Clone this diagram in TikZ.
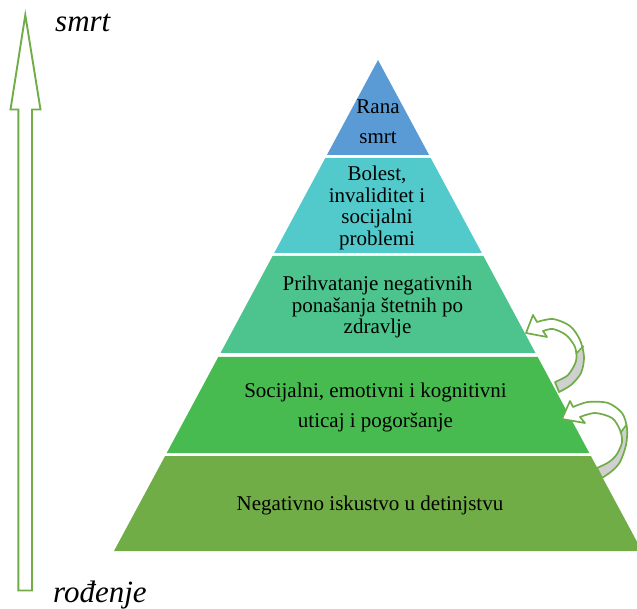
\documentclass[tikz,border=0pt]{standalone}
\usepackage{fontspec}
\setmainfont{Liberation Serif}
\definecolor{cBlue}{RGB}{91,155,213}
\definecolor{cTeal}{RGB}{82,202,204}
\definecolor{cMint}{RGB}{77,196,142}
\definecolor{cGreen}{RGB}{71,187,80}
\definecolor{cOlive}{RGB}{112,173,71}
\definecolor{cLine}{RGB}{112,173,71}
\definecolor{cGray}{RGB}{208,208,208}
\begin{document}
\begin{tikzpicture}[x=1pt,y=-1pt,
  lbltight/.style={font=\fontsize{21}{21.5}\selectfont, align=center, text=black, inner sep=0pt},
  lblwide/.style={font=\fontsize{21}{30}\selectfont, align=center, text=black, inner sep=0pt},
  sidelbl/.style={font=\itshape\fontsize{31}{31}\selectfont, text=black, inner sep=0pt, anchor=base west},
  outl/.style={draw=cLine, line width=1.7pt, line join=round},
  bigarrow/.style={draw=cLine, line width=1.9pt, line join=miter, fill=white}]
\useasboundingbox (0,0) rectangle (637,609);

% pyramid bands
\fill[cBlue]  (378,60) -- (429.1,155) -- (326.9,155) -- cycle;
\fill[cTeal]  (325.3,158) -- (430.7,158) -- (481.8,253) -- (274.2,253) -- cycle;
\fill[cMint]  (272.6,256) -- (483.4,256) -- (535.5,353) -- (220.5,353) -- cycle;
\fill[cGreen] (218.3,357) -- (537.7,357) -- (589.3,453) -- (166.7,453) -- cycle;
\fill[cOlive] (165.1,456) -- (590.9,456) -- (642,551) -- (114,551) -- cycle;

% labels
\node[lblwide]  (l1) at (378,122) {Rana\\smrt};
\node[lbltight] (l2) at (377,208) {Bolest,\\invaliditet i\\socijalni\\problemi};
\node[lbltight] (l3) at (377.5,307) {Prihvatanje negativnih\\pona\v{s}anja \v{s}tetnih po\\zdravlje};
\node[lblwide]  (l4) at (375.5,407) {Socijalni, emotivni i kognitivni\\uticaj i pogor\v{s}anje};
\node[lbltight] (l5) at (370,505) {Negativno iskustvo u detinjstvu};

% left arrow
\draw[bigarrow] (25.3,15) -- (40.5,109.5) -- (32,109.5) -- (32,590.5) -- (18.3,590.5) -- (18.3,109.5) -- (10.5,109.5) -- cycle;
\node[sidelbl] (top) at (55,32) {smrt};
\node[sidelbl] (bot) at (53,602) {rođenje};

% upper curved arrow
\def\upperband{(526,333) -- (533,315) -- (537,322)
  -- plot[smooth] coordinates {(537,322) (553,319) (570,326) (580,340) (584,357) (581,373) (571,385) (559,392)}
  -- (555,382)
  -- plot[smooth] coordinates {(555,382) (568,375) (576,361) (575,347) (566,335) (553,329) (543,331)}
  -- (547,337) -- cycle}
\fill[white] \upperband;
\begin{scope}
  \clip (545,354) -- (576,354) -- (590,344) -- (600,344) -- (600,400) -- (545,400) -- cycle;
  \fill[cGray] \upperband;
\end{scope}
\draw[outl] (575.8,354) .. controls (579,350) .. (583.6,346);
\draw[outl] \upperband;

% lower curved arrow
\def\lowerband{(562,419) -- (570,401) -- (573,407)
  -- plot[smooth] coordinates {(573,407) (588,402) (608,403) (622,413) (627,428) (626,445) (620,462) (612,471) (602,478)}
  -- (597,468)
  -- plot[smooth] coordinates {(597,468) (609,462) (617,454) (622,442) (620,430) (612,418) (595,413) (580,417)}
  -- (585,423) -- cycle}
\fill[white] \lowerband;
\begin{scope}
  \clip (585,433) -- (620.5,433) -- (632,423) -- (645,423) -- (645,495) -- (585,495) -- cycle;
  \fill[cGray] \lowerband;
\end{scope}
\draw[outl] (620.3,433) .. controls (623,429) .. (626.8,424.5);
\draw[outl] \lowerband;
\end{tikzpicture}
\end{document}
